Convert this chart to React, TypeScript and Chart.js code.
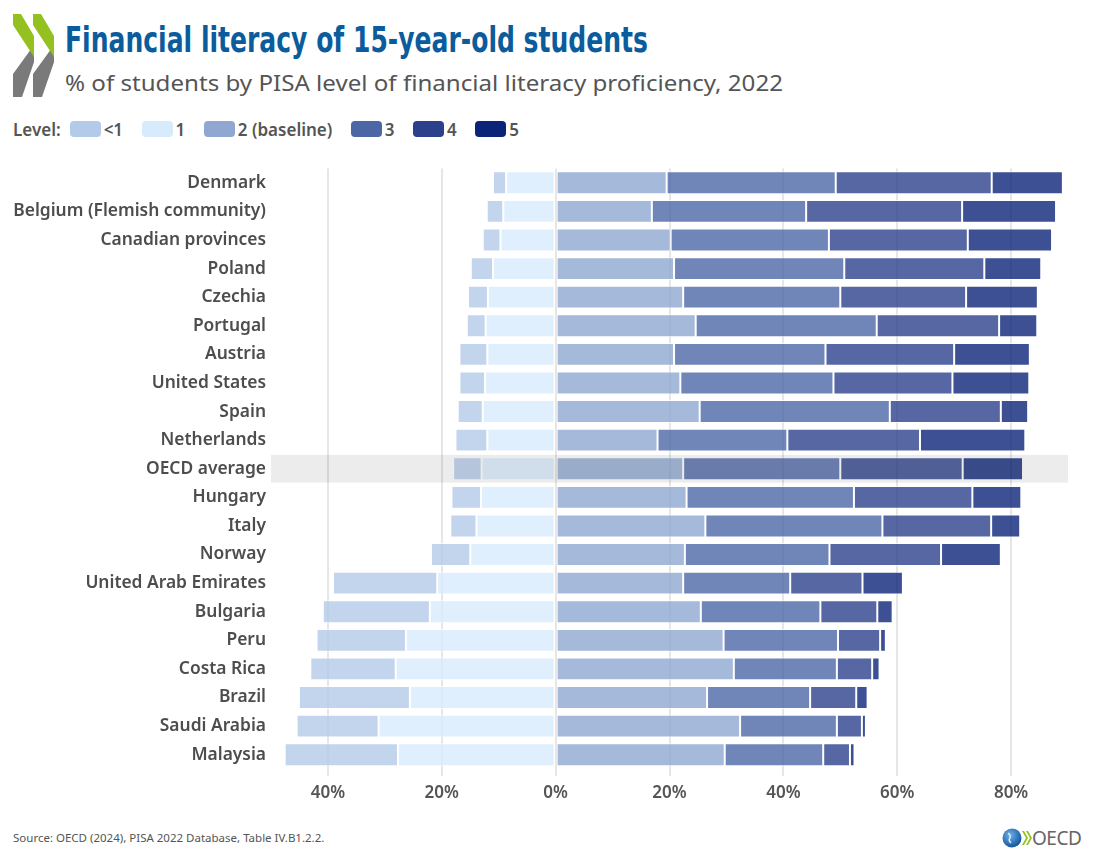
import React, { useEffect, useLayoutEffect, useRef } from 'react';
import { Chart, registerables } from 'chart.js';

Chart.register(...registerables);

const categories = [
  'Denmark', 'Belgium (Flemish community)', 'Canadian provinces', 'Poland', 'Czechia',
  'Portugal', 'Austria', 'United States', 'Spain', 'Netherlands', 'OECD average',
  'Hungary', 'Italy', 'Norway', 'United Arab Emirates', 'Bulgaria', 'Peru',
  'Costa Rica', 'Brazil', 'Saudi Arabia', 'Malaysia',
];

const levelBelow1 = [2.3, 2.9, 3.1, 3.9, 3.5, 3.3, 4.9, 4.5, 4.4, 5.6, 5.0, 5.2, 4.6, 6.9, 18.3, 18.8, 15.7, 15.0, 19.5, 14.4, 19.9];
const level1 = [8.7, 9.2, 9.7, 11.0, 11.9, 12.3, 12.0, 12.4, 12.8, 12.0, 13.0, 13.1, 13.9, 15.0, 20.8, 22.1, 26.3, 28.1, 25.6, 31.1, 27.7];
const level2 = [19.5, 16.9, 20.2, 20.8, 22.4, 24.6, 20.8, 21.9, 25.3, 17.9, 22.4, 23.0, 26.3, 22.7, 22.4, 25.5, 29.5, 31.3, 26.6, 32.4, 29.7];
const level3 = [29.7, 27.1, 27.8, 29.9, 27.6, 31.8, 26.6, 26.9, 33.4, 22.8, 27.6, 29.4, 31.1, 25.4, 18.8, 21.0, 20.1, 18.1, 18.1, 17.0, 17.3];
const level4 = [27.4, 27.4, 24.4, 24.6, 22.1, 21.5, 22.6, 20.9, 19.5, 23.3, 21.5, 20.8, 19.1, 19.6, 12.7, 10.0, 7.4, 6.2, 8.1, 4.4, 4.7];
const level5 = [12.5, 16.5, 14.8, 10.0, 12.6, 6.7, 13.3, 13.5, 4.8, 18.5, 10.6, 8.6, 5.1, 10.5, 7.1, 2.7, 1.0, 1.3, 2.0, 0.7, 0.8];

const levelLabels = ['<1', '1', '2 (baseline)', '3', '4', '5'];
const levelColors = ['#b3cbe9', '#d8ebfc', '#8fa7d1', '#4c66a6', '#2c418c', '#0b2478'];
const xTickValues = [-40, -20, 0, 20, 40, 60, 80];
const highlightCategory = 'OECD average';

const FONT = "'Noto Sans', 'Open Sans', sans-serif";

function withAlpha(hex: string, a: number) {
  const r = parseInt(hex.slice(1, 3), 16);
  const g = parseInt(hex.slice(3, 5), 16);
  const b = parseInt(hex.slice(5, 7), 16);
  return `rgba(${r},${g},${b},${a})`;
}

const bandPlugin = {
  id: 'highlightBand',
  afterDatasetsDraw(chart: any) {
    const idx = categories.indexOf(highlightCategory);
    if (idx < 0) return;
    const y = chart.scales.y;
    const { left, right } = chart.chartArea;
    const c = y.getPixelForValue(idx);
    const step = Math.abs(y.getPixelForValue(1) - y.getPixelForValue(0));
    const h = step * 0.97;
    const ctx = chart.ctx;
    ctx.save();
    ctx.fillStyle = 'rgba(0,0,0,0.075)';
    ctx.fillRect(left, c - h / 2, right - left, h);
    ctx.restore();
  },
};

function FitText({ text, width, style }: { text: string; width: number; style: React.CSSProperties }) {
  const ref = useRef<HTMLSpanElement>(null);
  useLayoutEffect(() => {
    const el = ref.current;
    if (!el) return;
    el.style.transform = 'none';
    const w = el.getBoundingClientRect().width;
    if (w > 0) el.style.transform = `scaleX(${width / w})`;
  }, [text, width]);
  return (
    <span ref={ref} style={{ ...style, display: 'inline-block', whiteSpace: 'nowrap', transformOrigin: 'left top' }}>
      {text}
    </span>
  );
}

function ChartCanvas() {
  const canvasRef = useRef<HTMLCanvasElement>(null);
  useEffect(() => {
    const canvas = canvasRef.current;
    if (!canvas) return;
    const series = [
      { label: levelLabels[1], data: level1.map((v) => -v), color: levelColors[1] },
      { label: levelLabels[0], data: levelBelow1.map((v) => -v), color: levelColors[0] },
      { label: levelLabels[2], data: level2, color: levelColors[2] },
      { label: levelLabels[3], data: level3, color: levelColors[3] },
      { label: levelLabels[4], data: level4, color: levelColors[4] },
      { label: levelLabels[5], data: level5, color: levelColors[5] },
    ];
    const chart = new Chart(canvas, {
      type: 'bar',
      data: {
        labels: categories,
        datasets: series.map((s) => ({
          label: s.label,
          data: s.data,
          backgroundColor: withAlpha(s.color, 0.8),
          borderColor: 'rgba(255,255,255,0.75)',
          borderWidth: 1,
          borderSkipped: false,
          categoryPercentage: 1,
          barPercentage: 0.8,
        })),
      },
      options: {
        indexAxis: 'y',
        responsive: false,
        animation: false,
        layout: { padding: { left: 0, right: 28, top: 8.5, bottom: 0 } },
        plugins: {
          legend: { display: false },
          tooltip: { enabled: false },
          title: { display: false },
        },
        scales: {
          x: {
            stacked: true,
            min: -50,
            max: 90,
            afterBuildTicks: (scale: any) => {
              scale.ticks = xTickValues.map((v) => ({ value: v }));
            },
            afterFit: (scale: any) => {
              scale.height = 41;
              scale.paddingLeft = 0;
              scale.paddingRight = 0;
            },
            grid: {
              color: '#e6e6e6',
              lineWidth: 2,
              drawTicks: true,
              tickLength: 7,
            },
            border: { display: false },
            ticks: {
              color: '#555555',
              padding: 7,
              font: { family: FONT, size: 17, weight: '600' },
              callback: (v: any) => `${Math.abs(Number(v))}%`,
            },
          },
          y: {
            stacked: true,
            afterFit: (scale: any) => {
              scale.width = 271;
              scale.paddingTop = 0;
              scale.paddingBottom = 0;
            },
            grid: { display: false, drawTicks: false, tickLength: 0 },
            border: { display: false },
            ticks: {
              autoSkip: false,
              color: '#4d4d4d',
              padding: 5,
              font: { family: FONT, size: 17.4, weight: '600' },
            },
          },
        },
      },
      plugins: [bandPlugin],
    });
    return () => chart.destroy();
  }, []);
  return <canvas ref={canvasRef} width={1096} height={650} style={{ display: 'block', width: 1096, height: 650 }} />;
}

function OecdChevrons() {
  const chevron = (dx: number) => (
    <g key={dx} transform={`translate(${dx},0)`}>
      <polygon points="13,74 34,45 34,62 22,97 13,97" fill="#7a7a7a" />
      <polygon points="13,14 21,14 34,36 34,57 13,25" fill="#94c11f" />
    </g>
  );
  return (
    <svg width={70} height={105} style={{ position: 'absolute', left: 0, top: 0 }}>
      {chevron(0)}
      {chevron(20)}
    </svg>
  );
}

function OecdLogo() {
  return (
    <div style={{ position: 'absolute', left: 1000, top: 826, width: 96, height: 24 }}>
      <svg width={32} height={24} style={{ position: 'absolute', left: 0, top: 0 }}>
        <defs>
          <radialGradient id="globe" cx="0.4" cy="0.35" r="0.7">
            <stop offset="0%" stopColor="#6fb3e8" />
            <stop offset="100%" stopColor="#0b4f9c" />
          </radialGradient>
        </defs>
        <circle cx={12} cy={12} r={9.5} fill="url(#globe)" />
        <path d="M8,7 q3,2 2,5 q-2,2 1,5" stroke="#d9ecff" strokeWidth={1.5} fill="none" />
        <polygon points="22,5 24,5 28,12 24,19 22,19 26,12" fill="#94c11f" />
        <polygon points="26,5 28,5 32,12 28,19 26,19 30,12" fill="#94c11f" />
      </svg>
      <span style={{ position: 'absolute', left: 32, top: 0, font: `400 19px ${FONT}`, color: '#666', lineHeight: '24px', letterSpacing: '-0.5px' }}>
        OECD
      </span>
    </div>
  );
}

export default function App() {
  return (
    <div style={{ position: 'absolute', left: 0, top: 0, width: 1096, height: 854, background: '#fff', overflow: 'hidden', fontFamily: FONT }}>
      <OecdChevrons />
      <div style={{ position: 'absolute', left: 65, top: 21, lineHeight: '38px' }}>
        <FitText
          text="Financial literacy of 15-year-old students"
          width={583}
          style={{ fontFamily: "'Liberation Sans Narrow', 'DejaVu Sans Condensed', 'Liberation Sans', sans-serif", fontWeight: 700, fontSize: 36, color: '#0b5c9c', lineHeight: '38px' }}
        />
      </div>
      <div style={{ position: 'absolute', left: 65, top: 70, lineHeight: '26px' }}>
        <FitText
          text="% of students by PISA level of financial literacy proficiency, 2022"
          width={718}
          style={{ fontFamily: FONT, fontWeight: 400, fontSize: 21, color: '#555555', lineHeight: '26px' }}
        />
      </div>
      <div style={{ position: 'absolute', left: 13, top: 117, height: 24, display: 'flex', alignItems: 'center', font: `600 17px ${FONT}`, color: '#555555' }}>
        <span style={{ marginRight: 9 }}>Level:</span>
        {levelLabels.map((l, i) => (
          <React.Fragment key={l}>
            <span style={{ display: 'inline-block', width: 31, height: 16, borderRadius: 4, background: levelColors[i], marginRight: 3 }} />
            <span style={{ marginRight: i === levelLabels.length - 1 ? 0 : 18.5 }}>{l}</span>
          </React.Fragment>
        ))}
      </div>
      <div style={{ position: 'absolute', left: 0, top: 160 }}>
        <ChartCanvas />
      </div>
      <div style={{ position: 'absolute', left: 13, top: 830, font: `400 11.5px ${FONT}`, color: '#555555', whiteSpace: 'nowrap' }}>
        Source: OECD (2024), PISA 2022 Database, Table IV.B1.2.2.
      </div>
      <OecdLogo />
    </div>
  );
}
